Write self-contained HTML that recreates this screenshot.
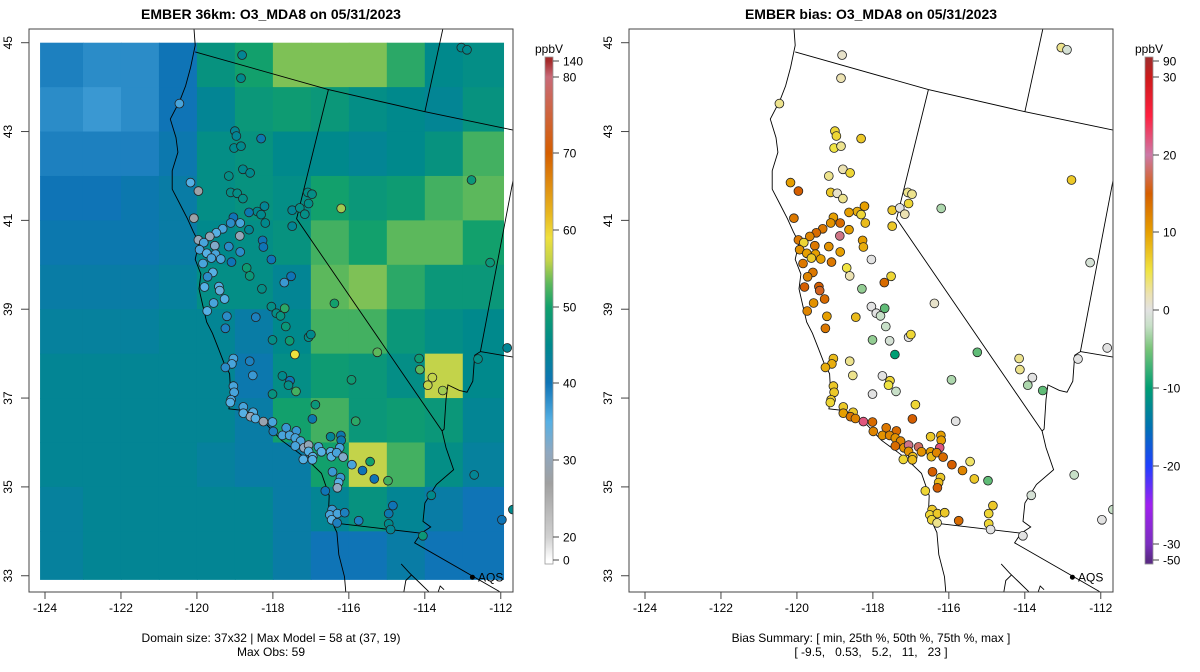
<!DOCTYPE html>
<html><head><meta charset="utf-8"><style>
html,body{margin:0;padding:0;background:#fff;}
svg{display:block;font-family:"Liberation Sans",Arial,sans-serif;}
</style></head><body>
<svg id="root" width="1200" height="672" viewBox="0 0 1200 672" xmlns="http://www.w3.org/2000/svg">
<defs>
<clipPath id="clipL"><rect x="29" y="29" width="484" height="563"/></clipPath>
<clipPath id="clipR"><rect x="629" y="29" width="484" height="563"/></clipPath>
</defs>
<text x="271" y="19" text-anchor="middle" font-size="14" font-weight="bold">EMBER 36km: O3_MDA8 on 05/31/2023</text>
<text x="871" y="19" text-anchor="middle" font-size="14" font-weight="bold">EMBER bias: O3_MDA8 on 05/31/2023</text>
<text x="271" y="642" text-anchor="middle" font-size="12">Domain size: 37x32 | Max Model = 58 at (37, 19)</text>
<text x="271" y="656" text-anchor="middle" font-size="12">Max Obs: 59</text>
<text x="871" y="642" text-anchor="middle" font-size="12">Bias Summary: [ min, 25th %, 50th %, 75th %, max ]</text>
<text x="871" y="656" text-anchor="middle" font-size="12" xml:space="preserve">[ -9.5,   0.53,   5.2,   11,   23 ]</text>
<g id="layer"></g>
</svg>
<script>
// ---------- data ----------
const lonEdges = [-124.13,-123,-122,-121,-120,-119,-118,-117,-116,-115,-114,-113,-111.93];
const latEdges = [45,44,43,42,41,40,39,38,37,36,35,34,32.92];
const modelGrid = [
 [39,38,38,40,47,50,54,54,54,51,45,46],
 [38,37,38,40,44,48,49,48,46,45,44,47],
 [39,39,39,41,46,47,45,45,44,45,47,52],
 [40,40,41,42,46,47,46,50,48,49,52,53],
 [41,41,41,42,45,46,47,52,50,53,53,50],
 [42,42,42,43,46,46,44,53,54,51,48,48],
 [43,43,43,44,44,42,45,52,52,48,46,45],
 [44,44,44,44,44,41,46,49,48,46,56,45],
 [44,44,44,44,44,42,50,52,48,49,48,44],
 [44,44,44,44,43,42,42,50,56,52,46,43],
 [43,44,44,44,44,44,42,44,47,44,42,40],
 [43,44,44,44,44,44,42,40,40,42,40,40]
];
const siteLon = [-118.81,-118.84,-120.46,-119.00,-118.96,-119.02,-118.84,-118.31,-118.79,-118.60,-119.16,-120.17,-119.96,-119.11,-118.94,-118.79,-112.77,-120.08,-118.22,-118.41,-118.63,-119.04,-118.31,-118.20,-118.63,-118.86,-119.11,-119.32,-119.49,-118.87,-119.66,-119.96,-119.82,-119.53,-119.16,-118.86,-119.93,-119.74,-119.51,-119.62,-119.37,-119.09,-119.84,-118.27,-118.25,-118.04,-118.69,-118.61,-119.58,-119.72,-119.80,-119.42,-119.40,-119.27,-119.56,-119.73,-119.21,-119.25,-118.45,-118.29,-117.52,-117.70,-118.04,-117.91,-117.80,-117.69,-117.66,-118.01,-117.56,-117.06,-117.00,-117.42,-116.38,-116.20,-117.08,-116.97,-117.06,-117.49,-117.29,-117.16,-117.49,-112.28,-114.15,-114.13,-113.80,-113.92,-113.53,-112.60,-111.83,-115.25,-115.93,-115.82,-116.88,-116.96,-117.75,-117.55,-117.59,-117.39,-118.01,-118.61,-118.53,-119.04,-119.08,-119.25,-119.04,-119.02,-119.10,-119.12,-118.78,-118.78,-118.52,-118.59,-118.46,-118.25,-118.01,-117.99,-117.65,-117.38,-117.75,-117.56,-117.41,-117.27,-117.41,-117.18,-117.06,-117.06,-116.95,-116.96,-117.20,-116.80,-116.72,-116.48,-116.21,-116.20,-116.24,-116.48,-116.46,-116.32,-116.15,-115.92,-115.64,-115.44,-115.33,-114.97,-116.43,-116.22,-116.27,-116.30,-116.62,-116.44,-116.50,-116.30,-116.11,-116.45,-116.31,-115.74,-114.95,-114.84,-114.95,-114.90,-114.05,-113.83,-112.70,-111.97,-111.68,-113.04,-112.89];
const siteLat = [44.72,44.20,43.63,43.01,42.90,42.63,42.67,42.84,42.15,42.07,42.00,41.85,41.66,41.63,41.61,41.49,41.91,41.05,41.32,41.20,41.18,41.07,41.13,40.94,40.79,40.94,40.94,40.81,40.72,40.65,40.64,40.56,40.50,40.43,40.41,40.29,40.34,40.26,40.24,40.15,40.13,40.06,40.03,40.55,40.40,40.12,39.93,39.75,39.83,39.73,39.50,39.51,39.42,39.23,39.14,38.96,38.84,38.57,38.82,39.46,39.74,39.60,39.06,38.91,38.85,39.02,38.61,38.31,38.29,38.37,38.43,37.98,39.13,41.27,41.63,41.59,41.38,41.23,41.28,41.14,40.87,40.05,37.89,37.64,37.46,37.29,37.17,37.88,38.13,38.03,37.41,36.48,36.85,36.53,37.50,37.39,37.29,37.15,37.09,37.83,37.51,37.89,37.77,37.69,37.27,37.13,36.96,36.90,36.80,36.66,36.68,36.58,36.54,36.47,36.46,36.25,36.33,36.26,36.16,36.16,36.10,36.03,35.92,35.88,35.94,35.80,35.68,35.61,35.62,35.90,35.79,36.13,36.16,36.05,35.88,35.79,35.68,35.77,35.67,35.50,35.37,35.57,35.18,35.14,35.34,35.21,35.10,34.98,34.91,34.49,34.37,34.40,34.42,34.26,34.19,34.24,34.40,34.58,34.17,34.04,33.90,34.81,35.27,34.26,34.49,44.89,44.84];
const siteObs = [44,45,36,44,44,45,45,41,45,45,46,35,28,46,46,46,48,28,44,45,41,40,45,45,44,36,38,36,35,30,30,30,36,32,38,38,36,35,36,36,36,40,36,40,40,40,49,48,35,38,35,35,34,35,36,35,38,39,39,46,40,37,46,46,47,51,48,46,49,46,45,59,50,55,46,46,46,44,46,46,44,48,49,53,56,56,55,46,44,53,49,51,48,41,45,40,46,52,47,39,37,36,36,38,36,36,36,35,36,35,35,30,35,29,36,39,37,37,36,36,36,36,36,31,30,35,35,35,35,36,35,44,41,41,36,35,35,36,32,36,40,50,40,52,37,37,35,31,40,37,36,36,39,35,39,39,41,40,45,44,48,45,44,40,45,45,45];
const siteBias = [1,2,3,6,6,5,3,7,2,6,3,10,15,7,1,3,7,13,10,9,10,10,6,8,10,14,11,13,14,19,12,13,6,13,11,10,11,10,10,7,10,13,13,10,9,0,5,2,13,12,15,15,16,14,11,12,10,13,8,-4,6,14,0,0,-2,-6,-2,-4,-1,0,6,-10,1,-3,3,3,6,7,0,2,7,-1,3,3,0,-3,-6,0,0,-6,-3,0,6,15,0,6,5,-2,0,3,3,8,9,9,7,7,7,6,7,10,7,13,12,22,14,12,13,14,11,12,11,12,14,11,19,11,8,8,6,18,11,7,10,10,22,10,8,12,14,15,12,4,7,-6,15,7,8,15,6,7,6,7,7,6,3,14,6,7,6,0,0,-1,-2,0,-2,3,-1];
const obsTickVals = [140,80,70,60,50,40,30,20,0];
const biasTickVals = [90,30,20,10,0,-10,-20,-30,-50];
const lonTicks = [-124,-122,-120,-118,-116,-114,-112];
const latTicks = [45,43,41,39,37,35,33];

// ---------- scales ----------
function xScale(lon){ return 45 + (lon + 124) * 37.98; }
function yScale(lat){ return 42.7 + (45 - lat) * 44.42; }
const obsBarVals = [140,80,70,60,50,40,30,20,0];
const obsBarPos  = [61,77,153,230,307,383,460,537,560];
const biasBarPos = [61,77,155,232,310,388,466,544,560];
const obsStops = [[0,'#ffffff'],[20,'#d0d0d0'],[27,'#a0a0a0'],[31,'#8fa8c0'],[35,'#56b0e4'],[40,'#0f74b6'],[45,'#00898c'],[50,'#12a06c'],[53,'#5cb85c'],[56,'#c3d34a'],[59,'#efe03e'],[62,'#e8b820'],[70,'#d55e00'],[80,'#c86a78'],[140,'#a52a2a']];
const biasStops = [[-50,'#5b2a86'],[-30,'#7b2fbf'],[-25,'#a020f0'],[-20,'#2040ff'],[-15,'#0072b2'],[-10,'#009e73'],[-5,'#78c478'],[-2,'#c8e0c8'],[0,'#e2e2e2'],[2,'#ece2b2'],[5,'#f0e442'],[10,'#e69f00'],[15,'#d55e00'],[20,'#cc79a7'],[25,'#ff2040'],[30,'#cc1a1a'],[90,'#a52a2a']];
function hex(c){return [parseInt(c.substr(1,2),16),parseInt(c.substr(3,2),16),parseInt(c.substr(5,2),16)];}
function colorOf(v,stops){
  if(v<=stops[0][0]) return stops[0][1];
  for(let i=1;i<stops.length;i++){
    if(v<=stops[i][0]){
      const t=(v-stops[i-1][0])/(stops[i][0]-stops[i-1][0]);
      const a=hex(stops[i-1][1]),b=hex(stops[i][1]);
      return 'rgb('+a.map((x,k)=>Math.round(x+(b[k]-x)*t)).join(',')+')';
    }
  }
  return stops[stops.length-1][1];
}
function posToVal(y,vals,pos){
  if(y<=pos[0]) return vals[0];
  for(let i=1;i<pos.length;i++){ if(y<=pos[i]){const t=(y-pos[i-1])/(pos[i]-pos[i-1]);return vals[i-1]+(vals[i]-vals[i-1])*t;} }
  return vals[vals.length-1];
}

// ---------- map outline (reference zoom units) ----------
function ox(z){ return 29 + (z-76)*0.3829; }
function oy(z){ return 42.7 + (z-33)*0.3691; }
const coast = [[505,-30],[510,40],[498,100],[485,150],[470,190],[445,240],[460,290],[465,330],[450,380],[450,430],[470,470],[490,510],[505,545],[520,575],[510,620],[525,660],[520,700],[530,745],[540,790],[555,820],[570,860],[585,900],[600,930],[603,990],[598,1025],[640,1030],[690,1060],[735,1110],[775,1140],[800,1160],[840,1200],[860,1260],[858,1310],[880,1360],[885,1420],[900,1480],[905,1540]];
const borders = [
 [[510,58],[858,160],[1110,220],[1342,270]],
 [[858,160],[775,510],[1155,1085]],
 [[1155,1085],[1165,1130],[1185,1190],[1140,1230],[1110,1280],[1105,1330],[1125,1345],[1100,1362],[1083,1388],[1305,1520]],
 [[880,1335],[1100,1362]],
 [[1110,220],[1160,-20]],
 [[1342,395],[1255,870],[1240,880],[1235,950],[1220,980],[1200,975],[1170,960],[1165,1000],[1160,1080],[1155,1085]],
 [[1255,870],[1342,885]],
 [[1048,1445],[1070,1470],[1090,1490],[1120,1520]],
 [[1055,1520],[1060,1490],[1075,1475]],
 [[1145,1520],[1150,1505],[1160,1515]]
];

const NS='http://www.w3.org/2000/svg';
const layer=document.getElementById('layer');
function mk(tag,attrs,parent){const e=document.createElementNS(NS,tag);for(const k in attrs)e.setAttribute(k,attrs[k]);(parent||layer).appendChild(e);return e;}

function drawPanel(off,isBias){
  const g=mk('g',{transform:'translate('+off+',0)'});
  
  
  const plot=mk('g',{'clip-path':'url(#clip'+(isBias?'R':'L')+')',transform:'translate('+(-off)+',0)'},g);
  const inner=mk('g',{transform:'translate('+off+',0)'},plot);
  if(!isBias){
    const hm=mk('g',{},inner);
    
    
    for(let r=0;r<modelGrid.length;r++){
      for(let c=0;c<modelGrid[r].length;c++){
        const x0=xScale(lonEdges[c]),x1=xScale(lonEdges[c+1]);
        const y0=yScale(latEdges[r]),y1=yScale(latEdges[r+1]);
        const cell=mk('rect',{x:x0.toFixed(2),y:y0.toFixed(2),width:(x1-x0+0.6).toFixed(2),height:(y1-y0+0.6).toFixed(2),fill:colorOf(modelGrid[r][c],obsStops)},hm);
        
        
      }
    }
  }
  const mapG=mk('g',{fill:'none',stroke:'#000','stroke-width':'0.9'},inner);
  
  
  mk('polyline',{points:coast.map(p=>ox(p[0]).toFixed(1)+','+oy(p[1]).toFixed(1)).join(' ')},mapG);
  borders.forEach(b=>mk('polyline',{points:b.map(p=>ox(p[0]).toFixed(1)+','+oy(p[1]).toFixed(1)).join(' ')},mapG));
  const ptsG=mk('g',{},inner);
  
  
  for(let i=0;i<siteLon.length;i++){
    const v=isBias?siteBias[i]:siteObs[i];
    const c=mk('circle',{cx:xScale(siteLon[i]).toFixed(1),cy:yScale(siteLat[i]).toFixed(1),r:'4.4',fill:colorOf(v,isBias?biasStops:obsStops),stroke:'#222','stroke-width':'0.8'},ptsG);
    
    
  }
  const lg=mk('g',{},inner);
  
  
  mk('circle',{cx:472.4,cy:577.2,r:2.5,fill:'#000'},lg);
  const lt=mk('text',{x:478,y:581.5,'font-size':'12'},lg); lt.textContent='AQS';
  const box=mk('rect',{x:29,y:29,width:484,height:563,fill:'none',stroke:'#444','stroke-width':'1'},g);
  
  
  const xa=mk('g',{},g);
  
  
  lonTicks.forEach(t=>{const x=xScale(t);mk('line',{x1:x,x2:x,y1:592,y2:599,stroke:'#444'},xa);
    const tx=mk('text',{x:x,y:612,'font-size':'12','text-anchor':'middle'},xa);tx.textContent=t;
    
    });
  const ya=mk('g',{},g);
  
  
  latTicks.forEach(t=>{const y=yScale(t);mk('line',{x1:21,x2:29,y1:y,y2:y,stroke:'#444'},ya);
    const tx=mk('text',{x:0,y:0,'font-size':'12','text-anchor':'middle',transform:'translate(12,'+y.toFixed(1)+') rotate(-90)'},ya);tx.textContent=t;
    
    });
  const cb=mk('g',{},g);
  
  
  const pos=isBias?biasBarPos:obsBarPos, vals=isBias?biasTickVals:obsBarVals, stops=isBias?biasStops:obsStops;
  for(let y=57;y<564;y+=1){
    mk('rect',{x:545,y:y,width:8,height:1.2,fill:colorOf(posToVal(y+0.5,vals,pos),stops)},cb);
  }
  mk('rect',{x:545,y:57,width:8,height:507,fill:'none',stroke:'#999','stroke-width':'0.8'},cb);
  vals.forEach((v,i)=>{mk('line',{x1:553,x2:559,y1:pos[i],y2:pos[i],stroke:'#444'},cb);
    const tx=mk('text',{x:563,y:pos[i]+4.5,'font-size':'12'},cb);tx.textContent=v;
    
    });
  const un=mk('text',{x:549,y:53,'font-size':'12','text-anchor':'middle'},cb);un.textContent='ppbV';
  
  
}
drawPanel(0,false);
drawPanel(600,true);
</script>
</body></html>
